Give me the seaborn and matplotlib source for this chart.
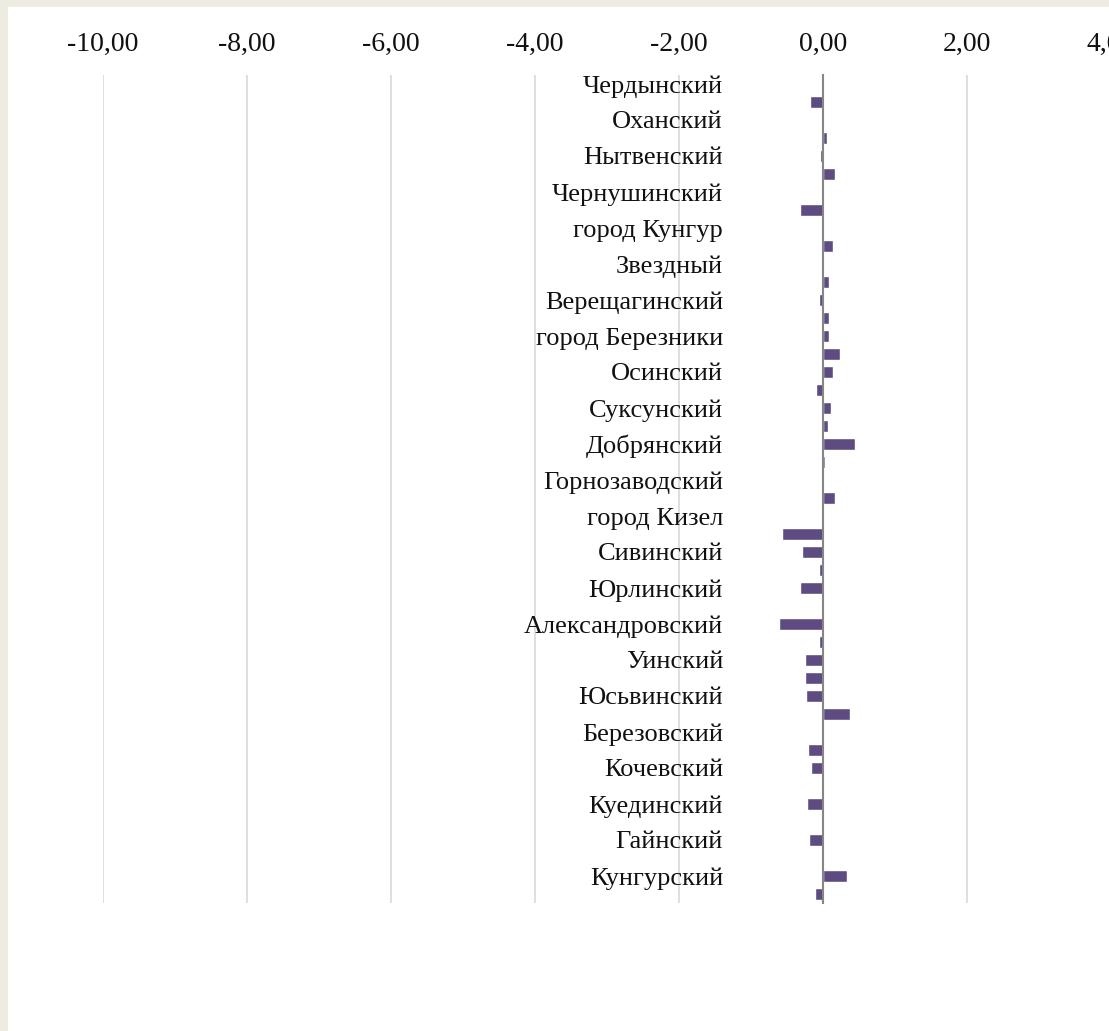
import pandas as pd
import seaborn as sns
import matplotlib.pyplot as plt
import matplotlib.ticker as mticker
from matplotlib.patches import Rectangle

# Labels visible on the chart (every other category)
shown_labels = [
    'Чердынский', 'Оханский', 'Нытвенский', 'Чернушинский', 'город Кунгур',
    'Звездный', 'Верещагинский', 'город Березники', 'Осинский', 'Суксунский',
    'Добрянский', 'Горнозаводский', 'город Кизел', 'Сивинский', 'Юрлинский',
    'Александровский', 'Уинский', 'Юсьвинский', 'Березовский', 'Кочевский',
    'Куединский', 'Гайнский', 'Кунгурский',
]
# Categories whose labels Excel skipped - names are guesses, never displayed
hidden_labels = [
    'Бардымский', 'Большесосновский', 'Еловский', 'Ильинский', 'Карагайский',
    'Кишертский', 'Красновишерский', 'Краснокамский', 'Кудымкарский',
    'Лысьвенский', 'Октябрьский', 'Ординский', 'Очерский', 'Пермский',
    'Соликамский', 'Чайковский', 'Частинский', 'Чусовской', 'Гремячинский',
    'Губахинский', 'Косинский', 'Усольский', 'город Пермь',
]
values = [
    0.00, -0.185, 0.00, 0.05, -0.046, 0.167, -0.02, -0.315, 0.00, 0.14,
    0.00, 0.08, -0.06, 0.088, 0.088, 0.23, 0.144, -0.093, 0.111, 0.065,
    0.449, 0.023, 0.00, 0.171, 0.00, -0.57, -0.287, -0.051, -0.32, 0.00,
    -0.611, -0.051, -0.255, -0.25, -0.236, 0.37, 0.00, -0.213, -0.171, 0.00,
    -0.218, 0.00, -0.19, 0.01, 0.329, -0.111,
]
x_ticks = [-10, -8, -6, -4, -2, 0, 2, 4]

categories = []
for a, b in zip(shown_labels, hidden_labels):
    categories += [a, b]

df = pd.DataFrame({'district': categories, 'value': values})

sns.set_style('white')
plt.rcParams['font.family'] = ['Liberation Serif', 'DejaVu Serif']

W, H = 1109, 1031
fig = plt.figure(figsize=(W / 100, H / 100), dpi=100, facecolor='#EEEBE0')
# white chart area, the beige frame shows only on the left and top
fig.patches.append(Rectangle((8 / W, 0), 1, 1 - 7 / H, transform=fig.transFigure,
                             facecolor='white', edgecolor='none', zorder=-10))

ax = fig.add_axes([103 / W, 1 - 903 / H, 1008 / W, 828 / H])
ax.set_facecolor('none')
ax.set_zorder(1)

sns.barplot(data=df, x='value', y='district', orient='h', color='#5E4B82',
            saturation=1, width=0.62, ax=ax)

ax.set_xlim(-10, 4)
ax.set_ylim(len(categories) - 0.5, -0.5)
ax.set_xticks(x_ticks)
ax.xaxis.set_major_formatter(mticker.FuncFormatter(lambda v, p: f'{v:.2f}'.replace('.', ',')))
ax.xaxis.tick_top()
ax.tick_params(axis='x', length=0, pad=13, labelsize=20, labelcolor='#111111')
ax.grid(True, axis='x', color='#D9D9D9', linewidth=1.2)
ax.set_axisbelow(True)

ax.set_yticks(range(0, len(categories), 2))
ax.set_yticklabels(shown_labels)
ax.tick_params(axis='y', length=0, pad=72, labelsize=19, labelcolor='#111111')

for s in ['top', 'right', 'bottom']:
    ax.spines[s].set_visible(False)
ax.spines['left'].set_position(('data', 0))
ax.spines['left'].set_color('#868686')
ax.spines['left'].set_linewidth(1.5)

ax.set_xlabel('')
ax.set_ylabel('')

fig.savefig('out.png', dpi=100, facecolor=fig.get_facecolor())
